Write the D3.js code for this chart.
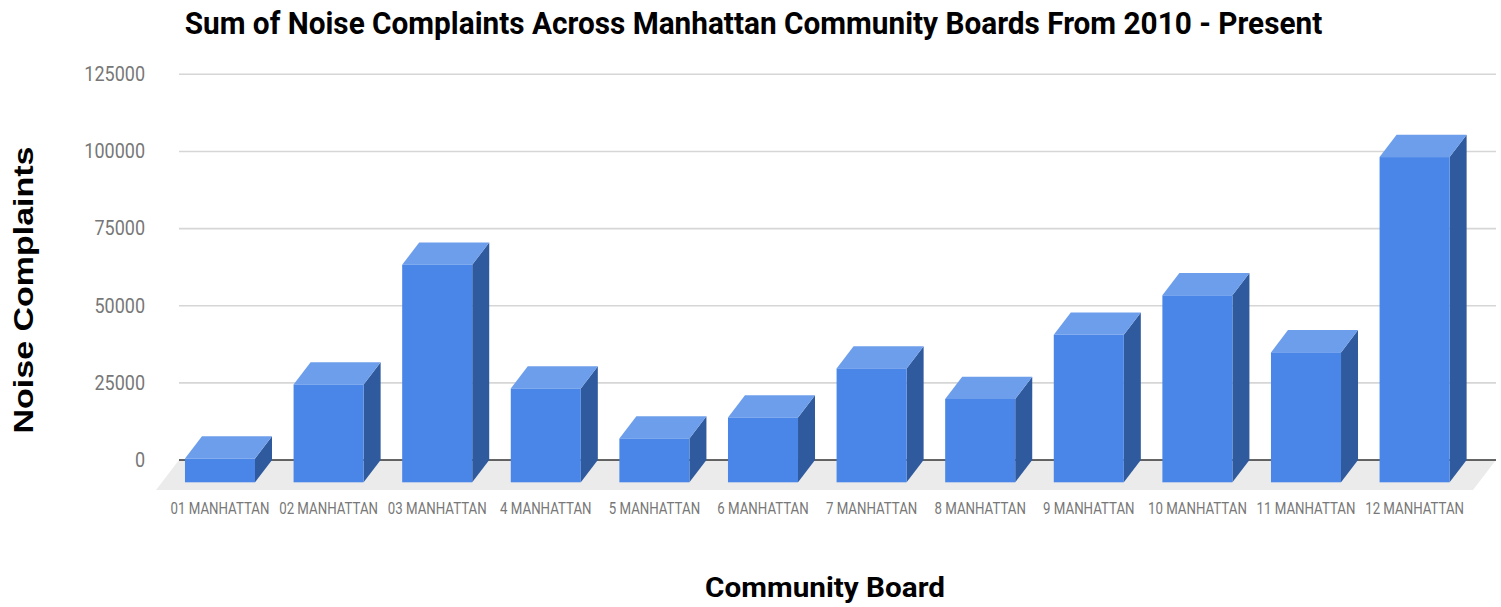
<!DOCTYPE html>
<html><head><meta charset="utf-8">
<script src="https://cdn.jsdelivr.net/npm/d3@7"></script>
<style>html,body{margin:0;padding:0;background:#fff;}svg{display:block;}</style>
</head><body>
<svg id="chart" width="1501" height="607"></svg>
<script>
const categories = ["01 MANHATTAN","02 MANHATTAN","03 MANHATTAN","4 MANHATTAN","5 MANHATTAN","6 MANHATTAN","7 MANHATTAN","8 MANHATTAN","9 MANHATTAN","10 MANHATTAN","11 MANHATTAN","12 MANHATTAN"];
const complaints = [7700, 31700, 70500, 30400, 14200, 21000, 36900, 27000, 47800, 60600, 42100, 105400];
const yTicks = [0, 25000, 50000, 75000, 100000, 125000];
const titleText = "Sum of Noise Complaints Across Manhattan Community Boards From 2010 - Present";
const xTitle = "Community Board";
const yTitle = "Noise Complaints";

const svg = d3.select("#chart");
const SX = 0.8; // horizontal text compression
const DX = 17, DY = 22.3; // 3D depth offset (back plane is up-right of front plane)

const y = d3.scaleLinear().domain([0, 125000]).range([460, 74.3]);   // back plane
const x = d3.scaleBand().domain(categories).range([165.7, 1468.9]).paddingInner(0.355).paddingOuter(0.1775); // front plane

function squishText(g, tx, ty, str, opts) {
  return g.append("text")
    .attr("transform", `translate(${tx},${ty}) scale(${opts.sx || SX},1)` + (opts.rotate ? ` rotate(${opts.rotate})` : ""))
    .attr("text-anchor", opts.anchor || "middle")
    .attr("font-family", opts.family || "Roboto, sans-serif")
    .attr("font-size", opts.size)
    .attr("font-weight", opts.weight || "normal")
    .attr("fill", opts.fill || "#000")
    .attr("dominant-baseline", opts.baseline || "alphabetic")
    .text(str);
}

// floor
const gx0 = 179, gx1 = 1496;
svg.append("polygon")
  .attr("points", [[gx0, y(0)], [gx1, y(0)], [gx1 - 23, y(0) + 30], [gx0 - 23, y(0) + 30]].map(p => p.join(",")).join(" "))
  .attr("fill", "#ebebeb");

// gridlines
svg.append("g").selectAll("line").data(yTicks.filter(d => d > 0)).join("line")
  .attr("x1", gx0).attr("x2", gx1)
  .attr("y1", d => y(d)).attr("y2", d => y(d))
  .attr("stroke", "#d6d6d6").attr("stroke-width", 1.6);
svg.append("line").attr("x1", gx0).attr("x2", gx1).attr("y1", y(0)).attr("y2", y(0))
  .attr("stroke", "#333").attr("stroke-width", 1.6);

// y tick labels
const yl = svg.append("g");
yTicks.forEach(t => {
  squishText(yl, 145, y(t), String(t), {anchor: "end", size: 20, fill: "#777", baseline: "central", sx: 0.9});
});

// bars
const bw = x.bandwidth();
const bars = svg.append("g").selectAll("g").data(categories.map((c, i) => ({c, v: complaints[i]}))).join("g");
bars.each(function(d) {
  const g = d3.select(this);
  const xl = x(d.c), xr = xl + bw;
  const ft = y(d.v) + DY, fb = y(0) + DY;
  g.append("polygon").attr("points", [[xr, ft], [xr + DX, ft - DY], [xr + DX, fb - DY], [xr, fb]].map(p => p.join(",")).join(" "))
    .attr("fill", "#2f5a9d");
  g.append("polygon").attr("points", [[xl, ft], [xl + DX, ft - DY], [xr + DX, ft - DY], [xr, ft]].map(p => p.join(",")).join(" "))
    .attr("fill", "#6d9eeb");
  g.append("rect").attr("x", xl).attr("y", ft).attr("width", bw).attr("height", fb - ft)
    .attr("fill", "#4a86e8");
});

// x tick labels
const xl = svg.append("g");
categories.forEach(c => {
  squishText(xl, x(c) + bw / 2, 514, c, {size: 17, fill: "#777", sx: 0.78});
});

// titles
squishText(svg, 753.5, 34, titleText, {size: 32, weight: "bold", sx: 0.93});
squishText(svg, 825, 597, xTitle, {size: 28, weight: "bold", sx: 1.06});
squishText(svg, 32.5, 290, yTitle, {size: 34, weight: "bold", family: "'Liberation Sans', Arial, sans-serif", sx: 0.82, rotate: -90});
</script>
</body></html>
